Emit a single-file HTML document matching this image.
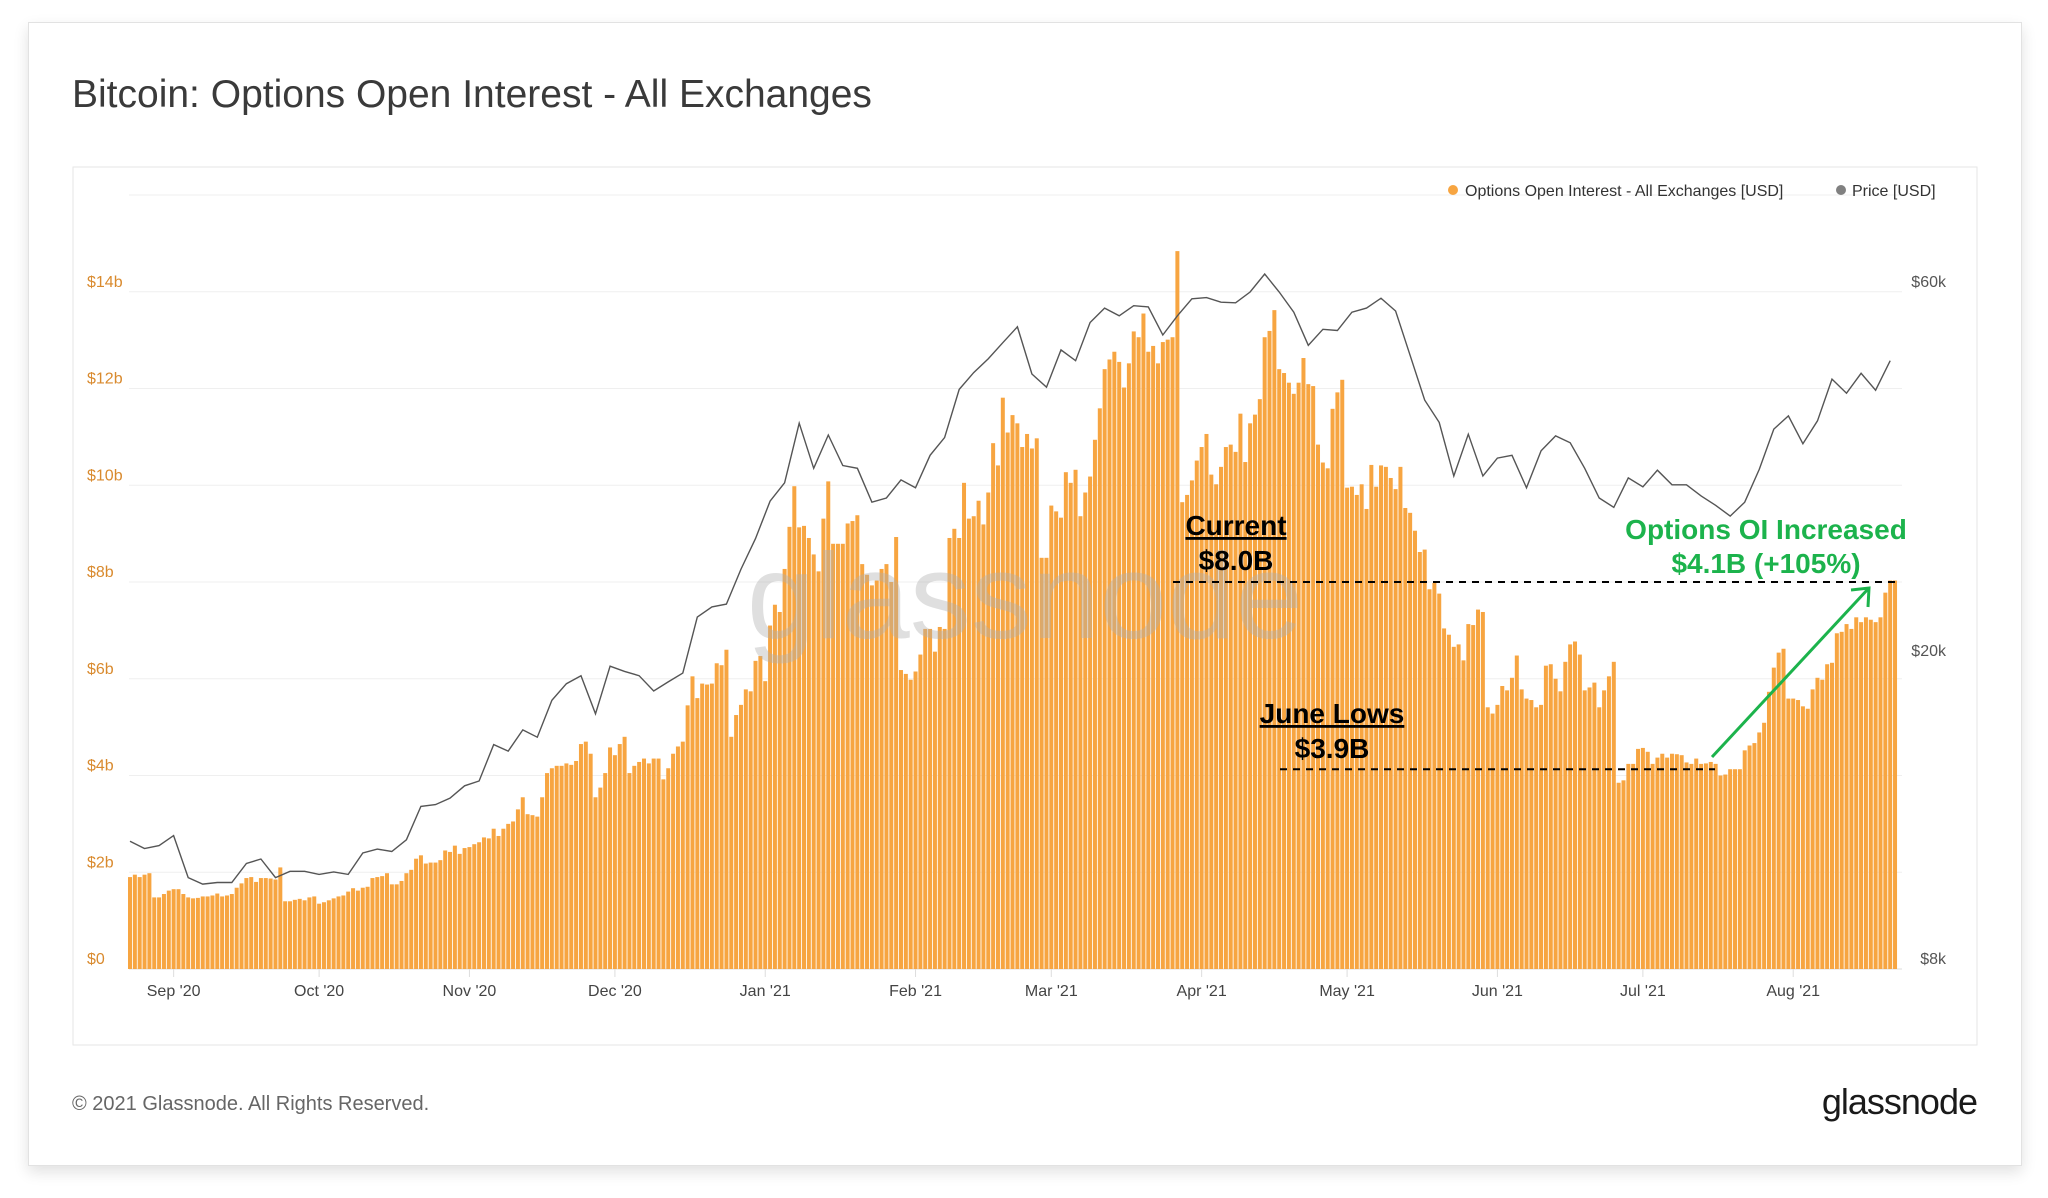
<!DOCTYPE html>
<html><head><meta charset="utf-8"><style>
html,body{margin:0;padding:0;background:#fff;}
body{width:2048px;height:1198px;overflow:hidden;font-family:"Liberation Sans",sans-serif;}
#card{position:absolute;left:28px;top:22px;width:1992px;height:1142px;background:#fff;border:1px solid #e2e2e2;box-shadow:0 6px 14px rgba(0,0,0,0.12);}
</style></head><body>
<div id="card"></div>
<svg id="chart" width="2048" height="1198" style="position:absolute;left:0;top:0">
<text x="72" y="107" font-size="39" fill="#3a3a3a">Bitcoin: Options Open Interest - All Exchanges</text>
<rect x="73" y="167" width="1904" height="878" fill="none" stroke="#e6e6e6"/>
<g id="grid"></g>
<g id="bars"></g>
<text x="1025" y="638" text-anchor="middle" font-size="122" fill="rgba(175,175,175,0.4)">glassnode</text>
<path id="price" fill="none" stroke="#555" stroke-width="1.4"/>
<g id="yl"></g>
<g id="yr"></g>
<g id="xl"></g>
<g>
<circle cx="1453" cy="190" r="5" fill="#f7a541"/>
<text x="1465" y="196" font-size="16" fill="#333">Options Open Interest - All Exchanges [USD]</text>
<circle cx="1841" cy="190" r="5" fill="#808080"/>
<text x="1852" y="196" font-size="16" fill="#333">Price [USD]</text>
</g>
<g id="ann">
<line id="curLine" x1="1173" x2="1900" stroke="#000" stroke-width="2" stroke-dasharray="7,6"/>
<line id="lowLine" x1="1280" x2="1715" stroke="#000" stroke-width="2" stroke-dasharray="7,6"/>
<text x="1236" y="535" text-anchor="middle" font-size="28" font-weight="bold" fill="#000" text-decoration="underline">Current</text>
<text x="1236" y="570" text-anchor="middle" font-size="28" font-weight="bold" fill="#000">$8.0B</text>
<text x="1332" y="723" text-anchor="middle" font-size="28" font-weight="bold" fill="#000" text-decoration="underline">June Lows</text>
<text x="1332" y="758" text-anchor="middle" font-size="28" font-weight="bold" fill="#000">$3.9B</text>
<text x="1766" y="539" text-anchor="middle" font-size="28" font-weight="bold" fill="#1cb34c">Options OI Increased</text>
<text x="1766" y="573" text-anchor="middle" font-size="28" font-weight="bold" fill="#1cb34c">$4.1B (+105%)</text>
<line x1="1712" y1="757" x2="1868" y2="589" stroke="#1cb34c" stroke-width="3"/>
<polyline points="1851,590 1869,588 1868,607" fill="none" stroke="#1cb34c" stroke-width="3"/>
</g>
<text x="72" y="1110" font-size="20" fill="#666">© 2021 Glassnode. All Rights Reserved.</text>
<text x="1977" y="1114" text-anchor="end" font-size="36" fill="#1a1a1a" letter-spacing="-1">glassnode</text>
</svg>
<script>
const oiValues=[1.90,1.95,1.90,1.95,1.98,1.48,1.48,1.55,1.62,1.65,1.65,
1.55,1.48,1.46,1.47,1.50,1.50,1.52,1.56,1.50,1.52,1.55,1.68,1.77,1.88,1.90,1.80,1.88,1.88,1.87,1.85,2.10,
1.40,1.40,1.43,1.45,1.42,1.48,1.50,1.35,1.38,1.42,1.46,1.50,1.52,1.60,1.67,1.62,1.68,1.70,1.88,1.90,1.92,1.98,1.75,1.75,1.82,1.98,2.05,2.28,2.35,2.18,
2.20,2.20,2.25,2.45,2.42,2.55,2.38,2.50,2.52,2.58,2.62,2.72,2.70,2.90,2.75,2.90,3.00,3.05,3.30,3.55,
3.20,3.18,3.15,3.55,4.05,4.15,4.20,4.20,4.25,4.22,4.30,4.65,4.70,4.45,3.55,3.75,4.05,4.58,4.42,4.65,
4.80,4.05,4.20,4.28,4.35,4.25,4.35,4.35,3.92,4.15,4.45,4.60,4.70,5.45,6.05,5.60,5.90,5.88,5.90,6.32,
6.28,6.60,4.80,5.25,
5.46,5.78,5.74,6.37,6.47,5.95,7.1,7.53,7.38,8.27,9.14,9.98,9.13,9.16,8.91,8.57,8.22,9.31,10.08,8.79,8.79,8.79,9.21,9.26,9.38,8.37,8.15,7.93,8.03,8.27,8.37,8.0,8.93,6.18,6.1,5.98,6.15,6.5,7.03,7.03,6.56,7.07,7.03,8.91,9.1,8.91,10.05,9.31,9.36,9.68,9.19,9.85,10.87,10.41,11.81,11.09,11.45,11.28,10.79,11.06,10.76,10.97,8.5,8.5,9.58,9.46,9.33,10.27,10.05,10.32,9.36,9.85,10.18,10.94,11.59,12.4,12.6,12.76,12.55,12.02,12.52,13.18,13.06,13.55,12.76,12.88,12.52,12.96,13.01,13.06,14.84,
9.65,9.8,10.1,10.51,10.79,11.06,10.22,10.02,10.38,10.79,10.84,10.69,11.48,10.48,11.28,11.46,11.78,13.06,13.19,13.62,12.4,12.32,12.12,11.89,12.12,12.63,12.09,12.05,10.84,10.47,10.35,11.58,11.92,12.18,9.95,9.97,9.8,10.02,9.51,10.42,9.97,10.41,10.38,10.15,9.92,10.38,9.53,9.43,9.06,8.62,8.67,7.85,7.98,7.76,7.04,6.91,6.66,6.71,6.38,7.13,7.11,7.43,7.38,5.41,5.28,5.46,5.85,5.76,6.02,6.48,5.78,5.59,5.56,5.41,5.46,6.27,6.3,6.0,5.74,6.35,6.71,6.77,6.5,5.76,5.82,5.92,5.41,5.76,6.05,6.35,
3.85,3.9,4.24,4.24,4.55,4.57,4.49,4.24,4.37,4.45,4.37,4.45,4.44,4.42,4.27,4.24,4.35,4.24,4.25,4.28,4.24,4.0,4.02,4.13,4.13,4.13,4.52,4.62,4.67,4.89,5.09,5.73,6.23,6.54,6.62,5.59,5.59,5.56,5.43,5.38,5.78,6.02,5.98,6.3,6.33,6.94,6.97,7.13,7.03,7.27,7.17,7.27,7.22,7.17,7.27,7.78,8.03,8.03];
const priceStepDays=3;
const priceValues=[11.7,11.45,11.55,11.9,10.5,10.3,10.35,10.35,10.95,11.1,10.5,10.7,10.7,10.6,10.68,10.6,11.3,11.43,11.35,11.75,12.98,13.05,13.3,13.8,14.0,15.6,15.3,16.3,15.95,17.8,18.7,19.15,17.1,19.7,19.4,19.15,18.3,18.8,19.3,22.8,23.5,23.7,26.3,28.8,32.2,34.0,40.6,35.5,39.2,35.8,35.5,32.1,32.5,34.3,33.5,36.9,38.9,44.9,47.2,49.2,51.6,54.1,47.0,45.2,50.5,48.9,54.8,57.2,55.9,57.6,57.4,52.8,55.9,58.8,59.0,58.2,58.1,60.0,63.3,60.0,56.5,51.2,53.7,53.5,56.5,57.2,58.9,56.7,49.7,43.5,40.7,34.7,39.3,34.7,36.6,36.9,33.5,37.4,39.1,38.3,35.5,32.5,31.6,34.5,33.6,35.3,33.8,33.8,32.7,31.8,30.8,32.1,35.4,39.9,41.5,38.2,40.9,46.3,44.4,47.1,44.8,48.9];
const leftTicks=[0,2,4,6,8,10,12,14,16];
const rightTicks=[{v:8,l:"$8k"},{v:20,l:"$20k"},{v:60,l:"$60k"}];
const monthLabels=["Sep '20","Oct '20","Nov '20","Dec '20","Jan '21","Feb '21","Mar '21","Apr '21","May '21","Jun '21","Jul '21","Aug '21"];
const monthDayOffsets=[9,39,70,100,131,162,190,221,251,282,312,343];
const currentLevel=8.0, juneLowLevel=4.13;

const NS="http://www.w3.org/2000/svg";
const X0=130,DX=4.849,Y0=969,PXB=48.375,PL=129,PR=1902;
const x=i=>X0+i*DX;
const yL=v=>Y0-v*PXB;
const yR=p=>292+(Math.log(60)-Math.log(p))/(Math.log(60)-Math.log(8))*677;
function mk(tag,attrs,parent){const e=document.createElementNS(NS,tag);for(const k in attrs)e.setAttribute(k,attrs[k]);parent.appendChild(e);return e;}
const grid=document.getElementById('grid'),bars=document.getElementById('bars'),yl=document.getElementById('yl'),yr=document.getElementById('yr'),xl=document.getElementById('xl');
leftTicks.forEach(v=>{
  const g=mk('line',{x1:PL,x2:PR,y1:yL(v),y2:yL(v),stroke:v===0?'#dddddd':'#efefef','stroke-width':1},grid);
  
  
  if(v<16){const t=mk('text',{x:87,y:yL(v)-5,'font-size':16,fill:'#d98a2e'},yl);t.textContent=v===0?'$0':'$'+v+'b';
  
  }
});
rightTicks.forEach(r=>{
  const t=mk('text',{x:1946,y:yR(r.v)-5,'font-size':16,fill:'#555','text-anchor':'end'},yr);t.textContent=r.l;
  
  
});
oiValues.forEach((v,i)=>{
  const r=mk('rect',{x:x(i)-2,y:yL(v),width:4,height:v*PXB,fill:'#f7a541'},bars);
  
  
});
let d='';
priceValues.forEach((p,k)=>{d+=(k?'L':'M')+x(k*priceStepDays).toFixed(1)+','+yR(p).toFixed(1);});
document.getElementById('price').setAttribute('d',d);
monthLabels.forEach((m,k)=>{
  const xx=x(monthDayOffsets[k]);
  const tk=mk('line',{x1:xx,x2:xx,y1:969,y2:977,stroke:'#ddd'},xl);
  
  
  const t=mk('text',{x:xx,y:996,'font-size':16,fill:'#444','text-anchor':'middle'},xl);t.textContent=m;
  
  
});
const cl=document.getElementById('curLine');cl.setAttribute('y1',yL(currentLevel));cl.setAttribute('y2',yL(currentLevel));
const ll=document.getElementById('lowLine');ll.setAttribute('y1',yL(juneLowLevel));ll.setAttribute('y2',yL(juneLowLevel));
</script>
</body></html>
